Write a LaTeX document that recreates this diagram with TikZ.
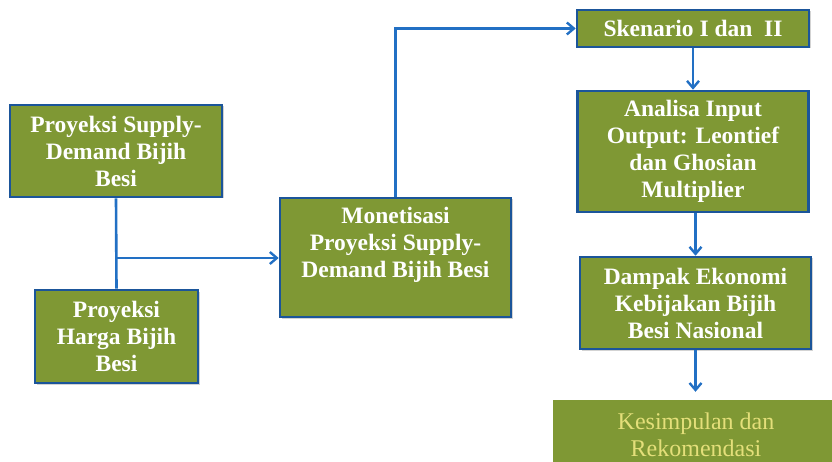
\documentclass[tikz,border=0pt]{standalone}
\usepackage{fontspec}
\setmainfont{Liberation Serif}
\usetikzlibrary{arrows.meta,shadows}
\definecolor{boxgreen}{HTML}{7F9834}
\definecolor{boxblue}{HTML}{1B559A}
\definecolor{linkblue}{HTML}{2270C4}
\definecolor{paleyellow}{HTML}{E4DF7A}
\tikzset{
  stepbox/.style={draw=boxblue, line width=2.6pt, fill=boxgreen, inner sep=0pt,
    drop shadow={opacity=0.35, shadow xshift=1.5pt, shadow yshift=-1.5pt}},
  boxtext/.style={text=white, font=\fontsize{23.5}{27}\selectfont\bfseries, align=center, inner sep=0pt},
  link/.style={draw=linkblue, line width=2.6pt},
  linkarrow/.style={link, -{Straight Barb[length=7pt,width=12pt,line width=2.4pt]}},
}
\begin{document}
\begin{tikzpicture}[x=1pt,y=-1pt]
\useasboundingbox (0,0) rectangle (832,462);
% boxes
\node[stepbox, minimum width=212pt, minimum height=92pt, boxtext] (b1) at (116,151) {Proyeksi Supply-\\Demand Bijih\\Besi};
\node[stepbox, minimum width=163pt, minimum height=93pt, boxtext] (b2) at (116.5,336.5) {Proyeksi\\Harga Bijih\\Besi};
\node[stepbox, minimum width=231pt, minimum height=119pt] (m) at (395.5,257.5) {};
\node[boxtext, anchor=center] (mt) at (395.5,245) {Monetisasi\\Proyeksi Supply-\\Demand Bijih Besi};
\node[stepbox, minimum width=232pt, minimum height=37pt, boxtext] (s) at (693,28.5) {Skenario I dan~~II};
\node[stepbox, minimum width=231pt, minimum height=121pt, boxtext] (a) at (693,151.5) {Analisa Input\\Output: Leontief\\dan Ghosian\\Multiplier};
\node[stepbox, minimum width=231pt, minimum height=92pt, boxtext] (d) at (695.5,303) {Dampak Ekonomi\\Kebijakan Bijih\\Besi Nasional};
\node[fill=boxgreen, minimum width=279pt, minimum height=62pt, inner sep=0pt] (k) at (692.5,431) {};
\node[text=paleyellow, font=\fontsize{24}{27}\selectfont, align=center, inner sep=0pt] (kt) at (696,435) {Kesimpulan dan\\Rekomendasi};
% connectors
\coordinate (j) at (116,258);
\draw[link] (b1.south) -- (b2.north);
\draw[linkarrow] (j) -- (j -| m.west);
\draw[linkarrow] (m.north) |- (s.west);
\draw[linkarrow] (s.south) -- (a.north);
\draw[linkarrow] (a.south -| d.north) -- (d.north);
\draw[linkarrow, shorten >=8pt] (d.south) -- (d.south |- k.north);
\end{tikzpicture}
\end{document}
